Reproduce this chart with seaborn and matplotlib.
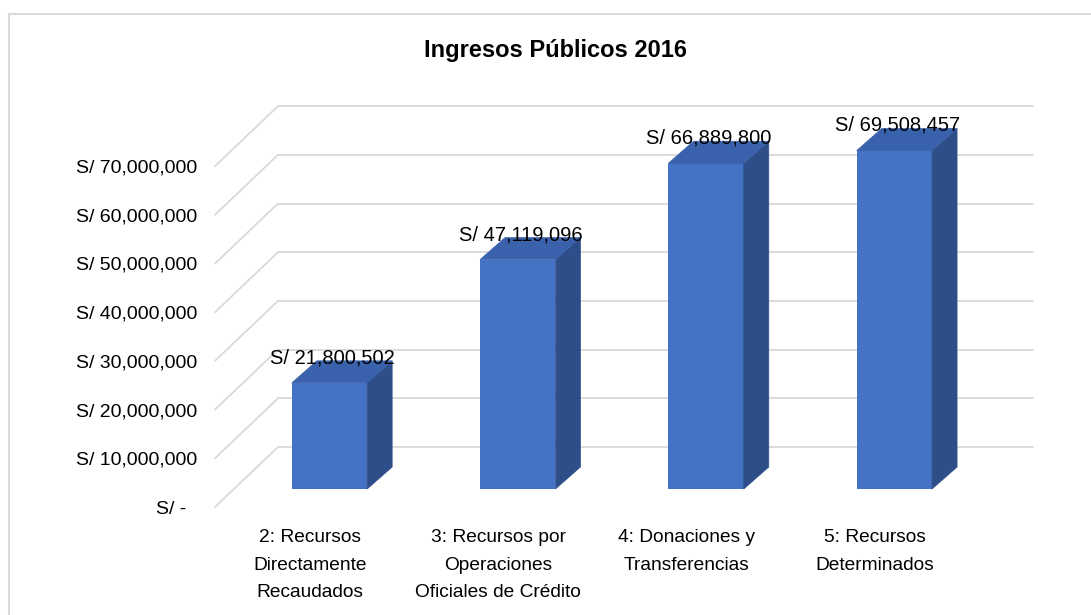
"""
Ingresos Públicos 2016 — 3D-style column chart (Excel look) with seaborn.
"""
import matplotlib
matplotlib.use("Agg")
import matplotlib.pyplot as plt
from matplotlib.patches import Polygon, Rectangle
import seaborn as sns

# --- data -------------------------------------------------------------------
categories = [
    "2: Recursos\nDirectamente\nRecaudados",
    "3: Recursos por\nOperaciones\nOficiales de Crédito",
    "4: Donaciones y\nTransferencias",
    "5: Recursos\nDeterminados",
]
values = [21800502, 47119096, 66889800, 69508457]
y_ticks = [0, 10000000, 20000000, 30000000, 40000000, 50000000, 60000000, 70000000]
title = "Ingresos Públicos 2016"

# --- styling / layout (pixels of a 1091x615 canvas) -------------------------
W, H = 1091, 615
FRONT = "#4472C4"
TOP = "#3A62AC"
SIDE = "#2D4E88"
GRID = "#D9D9D9"
TEXT = "#000000"

X0, XS = 329.5, 188.3        # pixel of category 0 (bar front centre), px per category
Y0, YS = 489.0, 4.87e-6      # pixel of value 0 (bar front baseline), px per unit
L, R, T, B = 215, 1040, 95, 510   # axes box in pixels
WALL_BACK_X0, WALL_BACK_X1 = 278, 1033
FRONT_DY_PX, BACK_DY_PX = -18, 42   # wall front / back, relative to bar front (up = +)
BAR_DX_PX, BAR_DY_PX = 25, 22       # bar depth

sns.set_style("white")
plt.rcParams["font.family"] = ["Liberation Sans", "DejaVu Sans"]


def px_to_x(px):
    return (px - X0) / XS


def dpx_to_y(dpx):
    return dpx / YS


fig = plt.figure(figsize=(W / 100, H / 100), dpi=100)
ax = fig.add_axes([L / W, (H - B) / H, (R - L) / W, (B - T) / H])

# walls: back horizontal gridlines + diagonal side-wall gridlines
front_dy = dpx_to_y(FRONT_DY_PX)
back_dy = dpx_to_y(BACK_DY_PX)
for v in y_ticks:
    ax.plot([px_to_x(WALL_BACK_X0), px_to_x(WALL_BACK_X1)], [v + back_dy, v + back_dy],
            color=GRID, lw=1.3, zorder=0, clip_on=False)
    ax.plot([px_to_x(L), px_to_x(WALL_BACK_X0)], [v + front_dy, v + back_dy],
            color=GRID, lw=1.3, zorder=0, clip_on=False)

# front faces through seaborn
sns.barplot(x=list(range(len(values))), y=values, width=0.4, color=FRONT,
            saturation=1, linewidth=0, ax=ax, zorder=2)

# side + top faces derived from each bar
ddx = BAR_DX_PX / XS
ddy = dpx_to_y(BAR_DY_PX)
for p in ax.patches[:len(values)]:
    x, w, h = p.get_x(), p.get_width(), p.get_height()
    side = [(x + w, 0), (x + w + ddx, ddy), (x + w + ddx, h + ddy), (x + w, h)]
    top = [(x, h), (x + ddx, h + ddy), (x + w + ddx, h + ddy), (x + w, h)]
    ax.add_patch(Polygon(side, closed=True, facecolor=SIDE, edgecolor=SIDE, lw=0.5, zorder=3))
    ax.add_patch(Polygon(top, closed=True, facecolor=TOP, edgecolor=TOP, lw=0.5, zorder=3))
    ax.text(x + w / 2 + 0.015, h + ddy + dpx_to_y(3), f"S/ {h:,.0f}",
            ha="center", va="center", fontsize=14.5, color=TEXT, zorder=5)

# limits after seaborn (it resets them)
ax.set_xlim(px_to_x(L), px_to_x(R))
ax.set_ylim((Y0 - B) / YS, (Y0 - T) / YS)

# axes ticks
ax.set_yticks([v + front_dy for v in y_ticks])
ax.set_yticklabels([f"S/ {v:,.0f}" if v else "S/ -  " for v in y_ticks], fontsize=14)
ax.set_xticks([i - 19.5 / XS for i in range(len(categories))])
ax.set_xticklabels(categories, fontsize=13.8, linespacing=1.78)
ax.tick_params(axis="y", length=0, pad=13, labelcolor=TEXT)
ax.tick_params(axis="x", length=0, pad=14, labelcolor=TEXT)
for s in ax.spines.values():
    s.set_visible(False)
ax.set_xlabel("")
ax.set_ylabel("")

fig.text(556 / W, 1 - 50 / H, title, ha="center", va="center",
         fontsize=17, fontweight="bold", color=TEXT)

fig.add_artist(Rectangle((9 / W, -0.05), 1.2, 1 - 14 / H + 0.05, transform=fig.transFigure,
                         fill=False, edgecolor=GRID, lw=1.5))

fig.savefig("out.png", dpi=100)
